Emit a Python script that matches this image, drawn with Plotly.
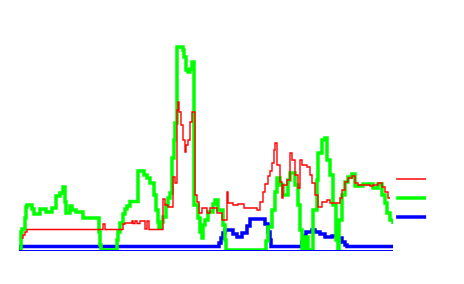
import plotly.graph_objects as go

# ---- data (time index, series values) ----
green_t = [1,2,3,6,7,8,13,15,21,27,33,37,41,44,46,47,51,53,57,61,64,80,81,82,
           98,99,101,104,106,108,111,119,125,128,131,135,137,139,140,142,144,147,149,151,
           153,155,156,158,164,165,167,169,171,173,175,179,181,183,184,186,189,194,196,199,
           204,206,207,247,249,253,256,258,261,264,269,271,276,279,281,283,286,289,294,298,
           299,303,306,308,311,314,317,319,320,323,326,329,333,336,344,354,359,363,366,368,
           371,374]
green_v = [0,18,21,32,43,45,41,36,41,38,42,54,57,63,48,37,44,40,38,38,32,18,5,0,
           10,18,27,36,41,44,48.5,79,75,72,67,55,40,28,22,28,33,45,52,57,
           92,110,127,203,200,193,180,178,181,188,45,32,18,12,25,30,38,46,50,40,
           25,10,0,9,23,40,58,72,65,55,70,77,65,45,20,0,13,0,40,70,
           97,110,112,90,75,45,10,0,30,55,68,73,76,64,66,62,66,55,47,37,
           30,26]

red_t = [3,4,6,8,84,86,104,106,113,114,116,118,121,126,128,130,144,146,149,154,156,
         158,159,160,162,164,166,167,169,171,173,176,178,180,183,188,191,198,203,208,209,
         214,219,225,238,241,244,246,249,251,253,255,256,258,261,263,264,268,271,273,276,
         279,281,283,288,291,293,296,299,303,308,311,321,323,326,329,333,336,339,351,354,
         359,363,366,369,371]
red_v = [12,15,18,20.5,26,20.5,26,27,29,26.5,29,26.5,29,21,29,20.5,51,45,43,73,67,
         140,148,138,125,110,98,105,110,128,138,55,48,37,42,37,42,37,30,58,47,
         45,46,42,40,48,58,66,74,79,87,100,107,85,68,52,65,70,97,90,75,
         62,90,85,83,75,67,55,43,48,50,47,52,60,68,72,74,67,65,64,65,
         67,63,58,52,52]

blue_t = [0,1,200,202,204,206,214,218,223,228,231,246,249,251,252,
          283,285,287,293,296,301,306,313,318,323,326,328,374]
blue_v = [0,3.5,7,12,17,20,16,13,17,24,31,26,18,10,3.5,
          8,14,18,20,18,16,13,14,12,8,5,3.5,3.5]

fig = go.Figure()
fig.add_trace(go.Scatter(x=blue_t, y=blue_v, mode="lines", line_shape="hv",
                         line=dict(color="#0000ff", width=3.5), name=" "))
fig.add_trace(go.Scatter(x=green_t, y=green_v, mode="lines", line_shape="hv",
                         line=dict(color="#00ff00", width=3.5), name=" "))
fig.add_trace(go.Scatter(x=red_t, y=red_v, mode="lines", line_shape="hv",
                         line=dict(color="#ff0000", width=1.4), name=" "))

fig.update_layout(
    width=464, height=284,
    margin=dict(l=19, r=71, t=40, b=34),
    paper_bgcolor="white", plot_bgcolor="white",
    showlegend=True,
    legend=dict(x=0.995, xanchor="left", y=0.407, yanchor="top",
                traceorder="reversed", font=dict(size=12),
                bgcolor="rgba(0,0,0,0)"),
    xaxis=dict(range=[0, 374], showgrid=False, zeroline=False, showticklabels=False,
               ticks="", showline=True, linecolor="#0000ff", linewidth=1,
               layer="below traces"),
    yaxis=dict(range=[0, 210], showgrid=False, zeroline=False, showticklabels=False,
               ticks="", showline=False),
)

fig.write_html("out.html")
